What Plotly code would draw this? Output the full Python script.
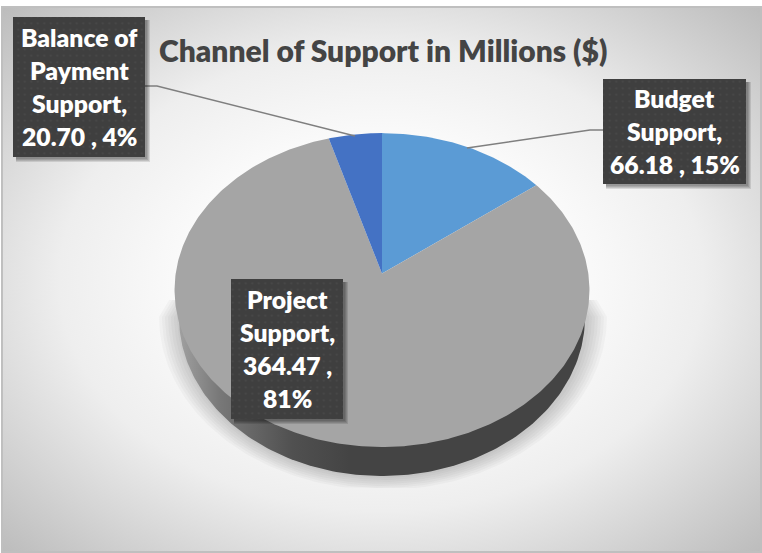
import numpy as np
import plotly.graph_objects as go

# Chart data
categories = ["Budget Support", "Project Support", "Balance of Payment Support"]
values = [66.18, 364.47, 20.70]
value_labels = ["66.18", "364.47", "20.70"]
percent_labels = ["15%", "81%", "4%"]
slice_colors = ["#5B9BD5", "#A5A5A5", "#4472C4"]
title_text = "Channel of Support in Millions ($)"
label_lines = [
    ["Budget", "Support,", f"{value_labels[0]} , {percent_labels[0]}"],
    ["Project", "Support,", f"{value_labels[1]} ,", percent_labels[1]],
    ["Balance of", "Payment", "Support,", f"{value_labels[2]} , {percent_labels[2]}"],
]

# Label boxes as (left, top, right, bottom), in the same order as the categories
label_boxes = [(603, 79, 746, 184), (231, 279, 343, 419), (13, 17, 145, 157)]
leader_lines = {
    0: ([603, 590, 467], [130, 130, 148]),
    2: ([145, 157, 355], [86, 86, 136]),
}

# Frame of the chart area in page pixels
FX0, FX1, FY0, FY1 = 2, 761, 7, 552
PAGE_W, PAGE_H = 762, 553

# Pie seen in perspective: apex position and projection terms
APEX_X, APEX_Y = 382, 273.5
PERSP_A, PERSP_B, PERSP_K = 206.3, 155.2, 0.1056


def project(theta):
    """Map a clockwise angle from 12 o'clock onto the tilted pie top."""
    u, v = np.sin(theta), np.cos(theta)
    d = 1 + PERSP_K * v
    return APEX_X + PERSP_A * u / d, APEX_Y - PERSP_B * v / d


fig = go.Figure()


def polygon(xs, ys, **kw):
    fig.add_trace(go.Scatter(
        x=list(xs), y=list(ys), mode="lines", fill="toself",
        line=dict(width=0), hoverinfo="skip", showlegend=False, **kw))


# Radial backdrop; the rectangle overshoots the frame so the last stop lands on the corners
cx_bg, cy_bg = (FX0 + FX1) / 2, (FY0 + FY1) / 2
hw, hh = (FX1 - FX0) / 2 * 1.414, (FY1 - FY0) / 2 * 1.414
polygon([cx_bg - hw, cx_bg + hw, cx_bg + hw, cx_bg - hw, cx_bg - hw],
        [cy_bg - hh, cy_bg - hh, cy_bg + hh, cy_bg + hh, cy_bg - hh],
        fillgradient=dict(type="radial", colorscale=[
            [0, "#ffffff"], [0.28, "#ffffff"], [0.6, "#eeeeee"], [1, "#bcbcbc"]]))

# Soft shadow beneath the pie wall, built from stacked translucent outlines
SH_CX, SH_CY = 383, 317
ts = np.linspace(0, np.pi, 160)
for grow in range(1, 8):
    rx = 203 + grow * 3
    ry = 159 + grow * 2
    sx = SH_CX + rx * np.cos(ts)
    sy = np.minimum(SH_CY + ry * np.sin(ts), 488)
    polygon(np.r_[sx, SH_CX - rx + 10, SH_CX + rx - 10], np.r_[sy, 300, 300],
            fillcolor="rgba(0,0,0,0.026)")

# Pie wall
wx = 382 + 203 * np.cos(ts)
wy = SH_CY + 159 * np.sin(ts)
polygon(np.r_[wx, 382 - 203, 382 + 203], np.r_[wy, 290, 290],
        fillgradient=dict(type="horizontal", colorscale=[
            [0, "#a0a0a0"], [0.1, "#787878"], [0.28, "#505050"],
            [0.42, "#444444"], [1, "#444444"]]))

# Pie top: every slice spans the angle given by its share of the total
total = sum(values)
start = 0.0
for name, value, color in zip(categories, values, slice_colors):
    sweep = 2 * np.pi * value / total
    angles = np.linspace(start, start + sweep, max(int(value), 30))
    px, py = project(angles)
    polygon(np.r_[APEX_X, px, APEX_X], np.r_[APEX_Y, py, APEX_Y],
            fillcolor=color, name=name)
    start += sweep

# Leader lines from the boxes to their slices
for lx, ly in leader_lines.values():
    fig.add_trace(go.Scatter(x=lx, y=ly, mode="lines", hoverinfo="skip", showlegend=False,
                             line=dict(color="#7f7f7f", width=1.5)))

annotations = []
for box, lines in zip(label_boxes, label_lines):
    x0, y0, x1, y1 = box
    # Box shadow, offset to the lower right
    for grow in (3, 2, 1, 0):
        polygon([x0 + 3, x1 + 2 + grow, x1 + 2 + grow, x0 + 3, x0 + 3],
                [y0 + 3, y0 + 3, y1 + 2 + grow, y1 + 2 + grow, y0 + 3],
                fillcolor="rgba(0,0,0,0.11)")
    # Dotted dark box
    polygon([x0, x1, x1, x0, x0], [y0, y0, y1, y1, y0],
            fillcolor="#3f3f3f",
            fillpattern=dict(shape=".", bgcolor="#3f3f3f", fgcolor="#555555",
                             size=6.5, solidity=0.08))
    mid = (y0 + y1) / 2
    for i, text in enumerate(lines):
        annotations.append(dict(
            x=(x0 + x1) / 2, y=mid + (i - (len(lines) - 1) / 2) * 33,
            xref="x", yref="y", text=text, showarrow=False,
            xanchor="center", yanchor="middle",
            font=dict(family="Lato", size=24.7, color="#ffffff", weight=800)))

annotations.append(dict(
    x=382.5, y=50, xref="x", yref="y", text=title_text, showarrow=False,
    xanchor="center", yanchor="middle",
    font=dict(family="Lato", size=30, color="#444444", weight=800)))

fig.update_layout(
    width=PAGE_W, height=PAGE_H, autosize=False,
    margin=dict(l=0, r=0, t=0, b=0),
    paper_bgcolor="#ffffff", plot_bgcolor="rgba(0,0,0,0)",
    showlegend=False,
    xaxis=dict(visible=False, range=[FX0, FX1], fixedrange=True,
               domain=[FX0 / PAGE_W, FX1 / PAGE_W]),
    yaxis=dict(visible=False, range=[FY1, FY0], fixedrange=True,
               domain=[1 - FY1 / PAGE_H, 1 - FY0 / PAGE_H]),
    annotations=annotations,
    shapes=[dict(type="rect", xref="paper", yref="paper",
                 x0=FX0 / PAGE_W, x1=FX1 / PAGE_W,
                 y0=1 - FY1 / PAGE_H, y1=1 - FY0 / PAGE_H,
                 line=dict(color="#bfbfbf", width=2), layer="above")],
)

fig.write_html("out.html", config={"displayModeBar": False})
